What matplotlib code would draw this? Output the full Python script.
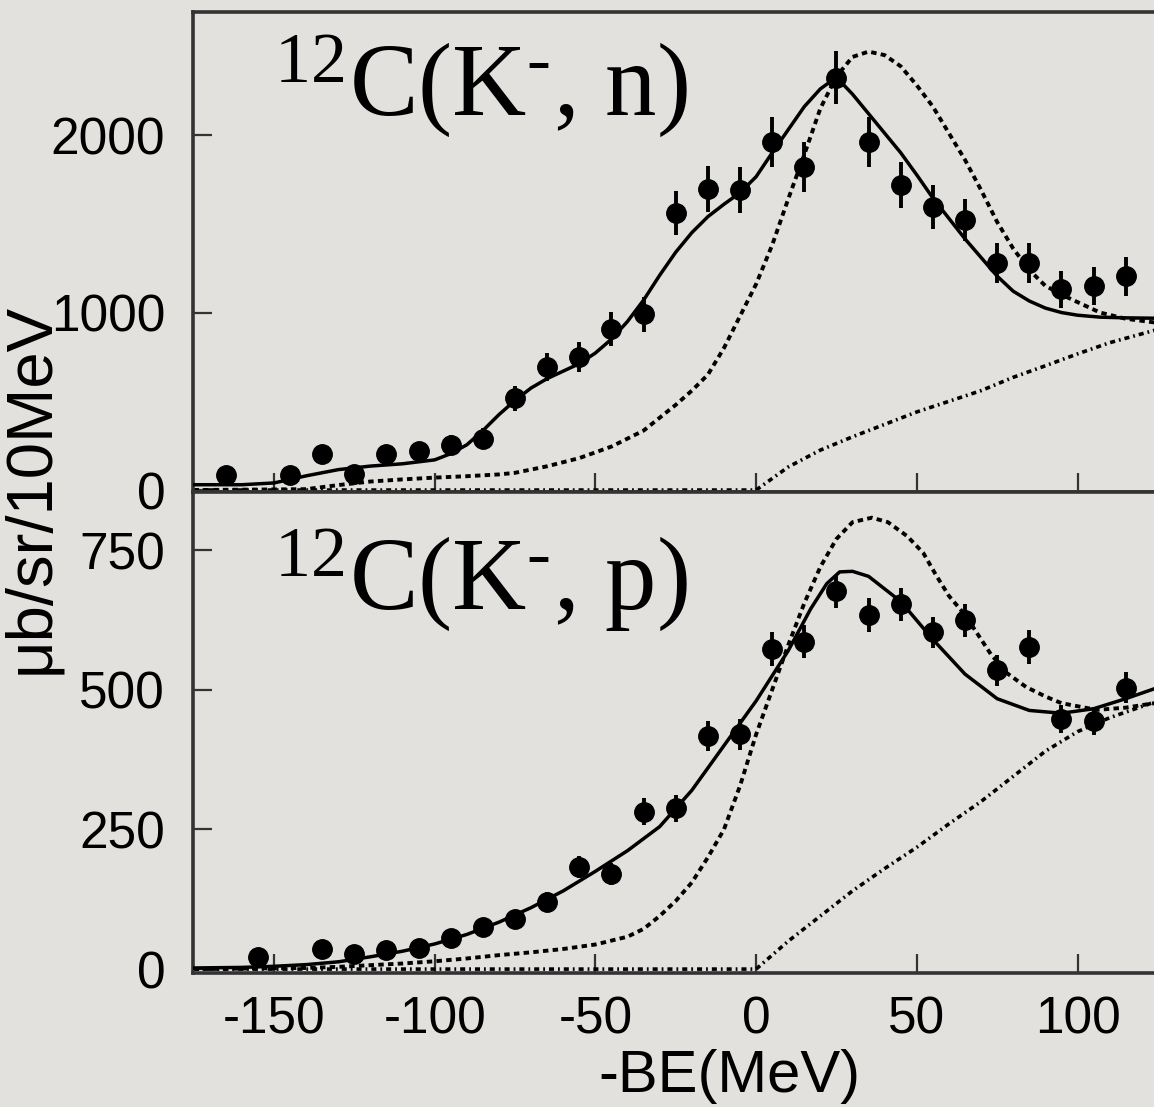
import numpy as np
import matplotlib
matplotlib.use('Agg')
import matplotlib.pyplot as plt

plt.rcParams['font.family'] = ['Liberation Sans', 'DejaVu Sans']
plt.rcParams['axes.unicode_minus'] = False
plt.rcParams['mathtext.fontset'] = 'custom'
plt.rcParams['mathtext.rm'] = 'Liberation Serif'
plt.rcParams['mathtext.it'] = 'Liberation Serif:italic'

# measured spectra, bins centred every 10 MeV
n_x = [-165, -145, -135, -125, -115, -105, -95, -85, -75, -65, -55, -45, -35, -25,
       -15, -5, 5, 15, 25, 35, 45, 55, 65, 75, 85, 95, 105, 115]
n_y = [85, 84, 203, 93, 203, 218, 255, 289, 516, 693, 749, 907, 990, 1559,
       1698, 1689, 1959, 1819, 2322, 1959, 1717, 1596, 1521, 1279, 1279, 1130, 1149, 1205]
n_err = [40, 40, 50, 40, 50, 50, 55, 60, 70, 80, 85, 95, 100, 125,
         130, 130, 140, 140, 150, 140, 130, 125, 120, 110, 110, 105, 105, 110]

p_x = [-155, -135, -125, -115, -105, -95, -85, -75, -65, -55, -45, -35, -25,
       -15, -5, 5, 15, 25, 35, 45, 55, 65, 75, 85, 95, 105, 115]
p_y = [21, 36, 27, 34, 38, 56, 76, 90, 120, 183, 170, 282, 288,
       417, 420, 573, 586, 676, 634, 653, 603, 624, 535, 577, 448, 444, 504]
p_err = [10, 12, 10, 12, 12, 14, 15, 16, 18, 20, 20, 24, 24,
         27, 27, 30, 30, 30, 30, 30, 28, 30, 28, 30, 25, 25, 28]

# calculated spectra (K- n)
n_fit_x = [-175, -160, -150, -140, -130, -120, -110, -100, -95, -90, -85, -80, -75, -70,
           -65, -60, -55, -50, -45, -40, -35, -30, -25, -20, -15, -10, -5, 0, 5, 10,
           15, 20, 25, 30, 35, 40, 45, 50, 55, 60, 65, 70, 75, 80, 85, 90, 95, 100,
           107, 115, 124]
n_fit_y = [30, 30, 40, 80, 115, 135, 148, 170, 205, 255, 335, 425, 505, 575,
           628, 670, 712, 772, 850, 950, 1070, 1210, 1340, 1450, 1540, 1610, 1675, 1765, 1900, 2030,
           2160, 2260, 2325, 2230, 2120, 2010, 1900, 1775, 1645, 1530, 1415, 1310, 1205, 1120, 1065, 1025, 1000, 985,
           974, 970, 968]
n_dw_x = [-175, -140, -130, -120, -110, -100, -90, -80, -75, -65, -55, -45, -35, -25,
          -20, -15, -10, -5, 0, 5, 10, 15, 20, 25, 30, 35, 40, 45, 50, 55, 60, 65,
          70, 75, 80, 85, 90, 97, 107, 115, 124]
n_dw_y = [0, 5, 28, 48, 60, 70, 78, 88, 97, 134, 180, 245, 335, 480,
          560, 650, 800, 980, 1160, 1380, 1640, 1890, 2150, 2330, 2440, 2470, 2450, 2387, 2280, 2160, 2010, 1860,
          1690, 1510, 1360, 1240, 1150, 1084, 1000, 965, 944]
n_qf_x = [-175, 0, 10, 20, 30, 40, 50, 60, 70, 80, 90, 100, 110, 124]
n_qf_y = [0, 0, 130, 225, 300, 370, 440, 500, 560, 635, 700, 767, 830, 900]

# calculated spectra (K- p)
p_fit_x = [-175, -160, -150, -140, -130, -120, -110, -100, -90, -80, -70, -60, -50, -40,
           -30, -20, -10, 0, 10, 17, 22, 26, 30, 35, 45, 55, 65, 75, 85, 95, 105, 115, 124]
p_fit_y = [2, 3, 5, 8, 13, 22, 32, 45, 62, 84, 110, 140, 175, 212,
           255, 320, 400, 480, 570, 645, 690, 711, 712, 703, 658, 590, 528, 484, 463, 458, 466, 484, 502]
p_dw_x = [-175, -140, -130, -120, -110, -100, -90, -80, -70, -60, -50, -40, -35, -30, -25, -20,
          -15, -10, -5, 0, 5, 10, 15, 20, 25, 30, 36, 41, 47, 52, 56, 60, 65, 73, 78, 84,
          90, 95, 106, 115, 124]
p_dw_y = [0, 2, 4, 7, 10, 14, 19, 25, 30, 36, 44, 58, 72, 95, 122, 155,
          200, 250, 328, 420, 500, 580, 655, 720, 770, 800, 808, 800, 775, 745, 705, 668, 634, 564, 530, 505,
          488, 476, 464, 468, 476]
p_qf_x = [-175, 0, 10, 20, 30, 40, 50, 60, 70, 80, 90, 100, 110, 124]
p_qf_y = [0, 0, 50, 95, 140, 180, 218, 260, 300, 345, 390, 425, 450, 478]

x_ticks = [-150, -100, -50, 0, 50, 100]

bg = '#e3e1dd'
ink = '#333333'
W, H = 1154, 1107

fig = plt.figure(figsize=(W / 100, H / 100), dpi=100)
fig.patch.set_facecolor(bg)

left = 193 / W
ax1 = fig.add_axes([left, 1 - 492 / H, 1 - left, (492 - 12) / H])
ax2 = fig.add_axes([left, 1 - 973 / H, 1 - left, (973 - 492) / H])


def draw_panel(ax, fx, fy, dx, dy, qx, qy, px, py, pe):
    ax.set_facecolor(bg)
    ax.plot(qx, qy, color='k', lw=2.6, dashes=(1.4, 1.1, 0.5, 1.1), zorder=2)
    ax.plot(dx, dy, color='k', lw=2.8, dashes=(1.4, 1.1), zorder=2)
    ax.plot(fx, fy, color='k', lw=2.5, zorder=3)
    ax.errorbar(px, py, yerr=pe, fmt='o', color='k', ms=14, elinewidth=2.8,
                capsize=0, zorder=4)
    ax.set_xlim(-175.2, 123.8)
    ax.set_xticks(x_ticks)
    for side in ['left', 'top', 'bottom']:
        ax.spines[side].set_color(ink)
        ax.spines[side].set_linewidth(2.6)
    ax.spines['right'].set_visible(False)
    ax.tick_params(direction='in', length=14, width=1.6, color=ink,
                   labelsize=37, pad=20)


draw_panel(ax1, n_fit_x, n_fit_y, n_dw_x, n_dw_y, n_qf_x, n_qf_y, n_x, n_y, n_err)
ax1.set_ylim(-11, 2693)
ax1.set_yticks([0, 1000, 2000])
ax1.tick_params(axis='x', labelbottom=False)
ax1.text(-150, 2110, r'$^{12}$C(K$^{\text{-}}$, n)', fontsize=74,
         family='Liberation Serif', ha='left', va='baseline')

draw_panel(ax2, p_fit_x, p_fit_y, p_dw_x, p_dw_y, p_qf_x, p_qf_y, p_x, p_y, p_err)
ax2.set_ylim(-7, 854)
ax2.set_yticks([0, 250, 500, 750])
ax2.tick_params(axis='x', pad=16)
ax2.text(-150, 643, r'$^{12}$C(K$^{\text{-}}$, p)', fontsize=74,
         family='Liberation Serif', ha='left', va='baseline')

fig.text(31 / W, 1 - 488 / H, 'μb/sr/10MeV', rotation=90, ha='center',
         va='center', fontsize=47)
fig.text(729 / W, 1 - 1077 / H, '-BE(MeV)', ha='center', va='center', fontsize=43)

fig.savefig('out.png', dpi=100, facecolor=bg)
